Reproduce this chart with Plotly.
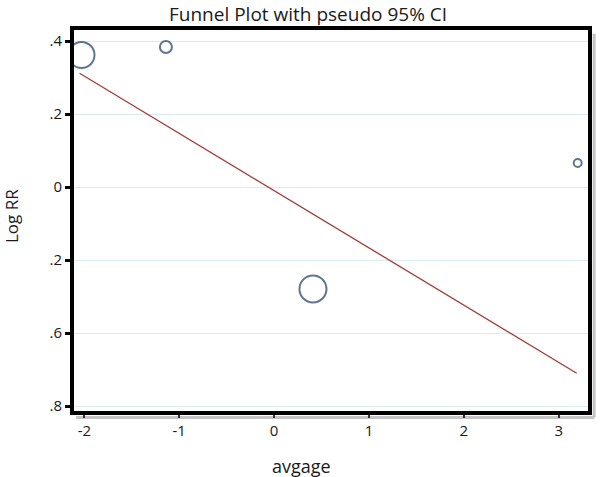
import plotly.graph_objects as go

# Data
avgage = [-2.03, -1.14, 0.41, 3.20]
log_rr = [0.362, 0.384, -0.279, 0.066]
marker_sizes = [26, 12, 27, 8]

fit_x = [-2.05, 3.19]
fit_y = [0.312, -0.51]

x_ticks = [-2, -1, 0, 1, 2, 3]
x_ticktext = ["-2", "-1", "0", "1", "2", "3"]
y_ticks = [0.4, 0.2, 0, -0.2, -0.4, -0.6]
y_ticktext = [".4", ".2", "0", ".2", ".6", ".8"]

font_family = "Open Sans, Noto Sans, sans-serif"

fig = go.Figure()
fig.add_trace(go.Scatter(
    x=fit_x, y=fit_y, mode="lines",
    line=dict(color="#a23a3a", width=1.3),
    showlegend=False, hoverinfo="skip"))
fig.add_trace(go.Scatter(
    x=avgage, y=log_rr, mode="markers",
    marker=dict(symbol="circle-open", size=marker_sizes,
                color="#1c3a60", line=dict(width=2, color="#1c3a60")),
    showlegend=False))

# shadow (right and bottom) and frame
fig.add_shape(type="line", xref="paper", yref="paper", x0=1.008, x1=1.008, y0=-0.012, y1=0.985,
              line=dict(color="#c4c4c4", width=3), layer="below")
fig.add_shape(type="line", xref="paper", yref="paper", x0=0.008, x1=1.008, y0=-0.012, y1=-0.012,
              line=dict(color="#c4c4c4", width=3), layer="below")
fig.add_shape(type="rect", xref="paper", yref="paper", x0=0, x1=1, y0=0, y1=1,
              line=dict(color="black", width=4), layer="above")

fig.add_annotation(text="Funnel Plot with pseudo 95% CI", xref="paper", yref="paper",
                   x=0.456, y=1.0364, xanchor="center", yanchor="middle", showarrow=False,
                   font=dict(size=19, family=font_family, color="#1a1a1a"))
fig.add_annotation(text="avgage", xref="paper", yref="paper",
                   x=0.444, y=-0.1377, xanchor="center", yanchor="middle", showarrow=False,
                   font=dict(size=18, family=font_family, color="#1a1a1a"))
fig.add_annotation(text="Log RR", xref="paper", yref="paper", textangle=-90,
                   x=-0.1158, y=0.5117, xanchor="center", yanchor="middle", showarrow=False,
                   font=dict(size=17, family=font_family, color="#1a1a1a"))

fig.update_layout(
    width=600, height=477,
    margin=dict(l=72, r=10, t=28, b=64),
    paper_bgcolor="white", plot_bgcolor="white",
    font=dict(family=font_family, color="#1a1a1a", size=15),
)
fig.update_xaxes(
    range=[-2.13, 3.33], tickvals=x_ticks, ticktext=x_ticktext,
    showgrid=False, zeroline=False, showline=False, automargin=False,
    ticks="outside", ticklen=4, tickwidth=2, tickcolor="#333",
    tickfont=dict(size=15))
fig.update_yaxes(
    range=[-0.619, 0.436], tickvals=y_ticks, ticktext=y_ticktext,
    showgrid=True, gridcolor="#dbecef", gridwidth=1.2,
    zeroline=False, showline=False, automargin=False,
    ticks="outside", ticklen=6, tickwidth=3, tickcolor="black",
    tickfont=dict(size=15))

# remove the default 8px page margin so the figure fills the window exactly
fig.write_html("out.html",
               config={"displayModeBar": False},
               post_script="document.body.style.margin='0';document.body.style.overflow='hidden';")
